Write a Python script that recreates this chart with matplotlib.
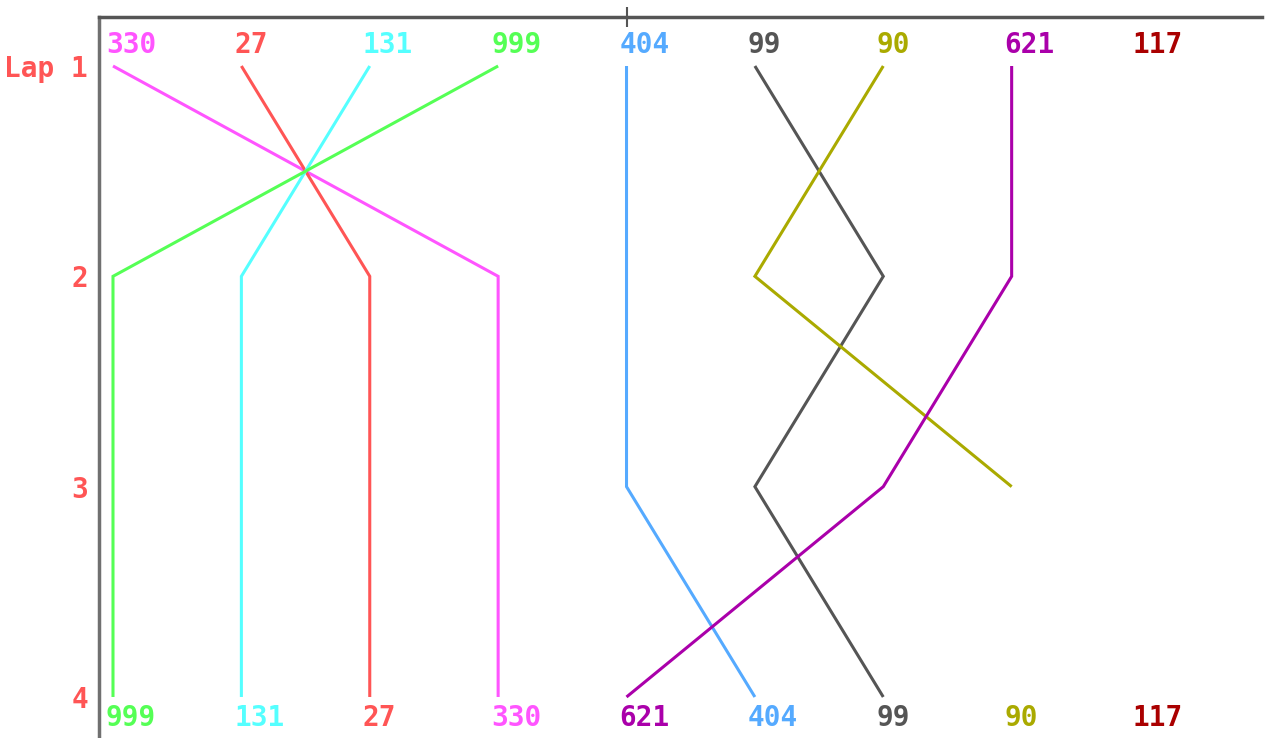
import matplotlib.pyplot as plt

# running order at the end of each lap (car numbers, position 1 first)
lap_order = [
    [330, 27, 131, 999, 404, 99, 90, 621, 117],
    [999, 131, 27, 330, 404, 90, 99, 621],
    [999, 131, 27, 330, 404, 99, 621, 90],
    [999, 131, 27, 330, 621, 404, 99],
]
final_order = [999, 131, 27, 330, 621, 404, 99, 90, 117]
lap_labels = ['Lap 1', '2', '3', '4']

car_colors = {
    330: '#ff55ff', 27: '#ff5555', 131: '#55ffff', 999: '#55ff55',
    404: '#55aaff', 99: '#555555', 90: '#aaaa00', 621: '#aa00aa',
    117: '#aa0000',
}

font = 'DejaVu Sans Mono'
fig = plt.figure(figsize=(12.69, 7.38), dpi=100)
ax = fig.add_axes([99 / 1269, 0, (1262 - 99) / 1269, (738 - 17) / 738])

laps = range(1, len(lap_order) + 1)
for car, col in car_colors.items():
    xs, ys = [], []
    for lap, order in zip(laps, lap_order):
        if car in order:
            xs.append(order.index(car) + 1)
            ys.append(lap)
    ax.plot(xs, ys, color=col, lw=2.2, solid_capstyle='butt', solid_joinstyle='miter')

for i, car in enumerate(lap_order[0]):
    ax.text(i + 1 - 0.055, 0.90, str(car), color=car_colors[car], ha='left', va='center',
            fontsize=20, fontweight='bold', family=font)
for i, car in enumerate(final_order):
    ax.text(i + 1 - 0.055, 4.10, str(car), color=car_colors[car], ha='left', va='center',
            fontsize=20, fontweight='bold', family=font)

ax.set_xlim(0.891, 9.95)
ax.set_ylim(4.195, 0.767)

ax.set_yticks(list(laps))
ax.set_yticklabels(lap_labels, color='#ff5555', fontsize=20, fontweight='bold', family=font)
ax.tick_params(axis='y', length=0, pad=8)

ax.xaxis.tick_top()
ax.set_xticks([5])
ax.set_xticklabels([''])
ax.tick_params(axis='x', direction='inout', length=14, width=1.5, color='#555555')

for side in ['right', 'bottom']:
    ax.spines[side].set_visible(False)
ax.spines['left'].set_color('#707070')
ax.spines['top'].set_color('#555555')
ax.spines['left'].set_linewidth(2.5)
ax.spines['top'].set_linewidth(2.5)

fig.savefig('out.png', dpi=100)
